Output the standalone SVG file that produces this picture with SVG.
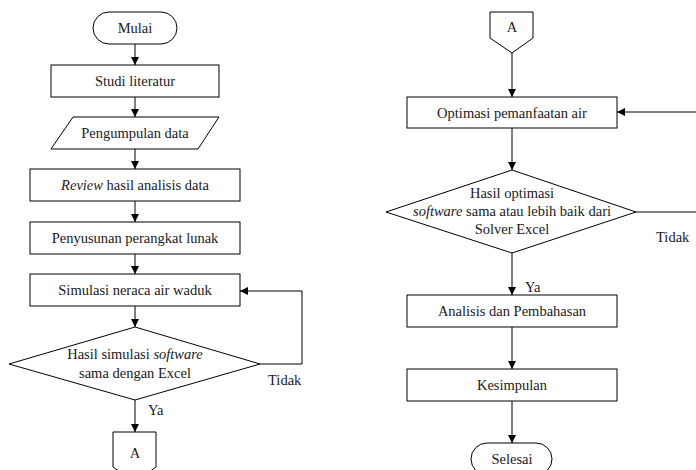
<svg xmlns="http://www.w3.org/2000/svg" width="696" height="470" viewBox="0 0 696 470" font-family="'Liberation Serif', 'Times New Roman', Times, 'DejaVu Serif', serif">
<style>
.s{fill:#fff;stroke:#000;stroke-width:1}
.c{fill:none;stroke:#000;stroke-width:1}
text{font-family:'Liberation Serif','Times New Roman',Times,'DejaVu Serif',serif;font-size:14.5px;fill:#1a1a1a;text-anchor:middle}
.l{text-anchor:start}
.i{font-style:italic}
</style>
<defs>
<marker id="ah" markerWidth="8" markerHeight="8" refX="8" refY="4" orient="auto" markerUnits="userSpaceOnUse">
<path d="M0,0 L8,4 L0,8 Z" fill="#000"/>
</marker>
</defs>
<rect width="696" height="470" fill="#fff"/>
<g id="connectors">
<line class="c" x1="135" y1="44" x2="135" y2="65" marker-end="url(#ah)"/>
<line class="c" x1="135" y1="97" x2="135" y2="117" marker-end="url(#ah)"/>
<line class="c" x1="135" y1="149" x2="135" y2="169" marker-end="url(#ah)"/>
<line class="c" x1="135" y1="201" x2="135" y2="222" marker-end="url(#ah)"/>
<line class="c" x1="135" y1="254" x2="135" y2="274" marker-end="url(#ah)"/>
<line class="c" x1="135" y1="306" x2="135" y2="327" marker-end="url(#ah)"/>
<polyline class="c" points="260,364 302,364 302,291 240,291" marker-end="url(#ah)"/>
<line class="c" x1="135" y1="400" x2="135" y2="432" marker-end="url(#ah)"/>
<line class="c" x1="512" y1="53" x2="512" y2="97" marker-end="url(#ah)"/>
<line class="c" x1="512" y1="128" x2="512" y2="170" marker-end="url(#ah)"/>
<polyline class="c" points="636,212 702,212 702,112 617,112" marker-end="url(#ah)"/>
<line class="c" x1="512" y1="253" x2="512" y2="295" marker-end="url(#ah)"/>
<line class="c" x1="512" y1="327" x2="512" y2="369" marker-end="url(#ah)"/>
<line class="c" x1="512" y1="401" x2="512" y2="443" marker-end="url(#ah)"/>
<text class="l" x="268" y="385">Tidak</text>
<text class="l" x="148" y="415">Ya</text>
<text class="l" x="656" y="242">Tidak</text>
<text class="l" x="525" y="292">Ya</text>
</g>
<g id="mulai">
<rect class="s" x="93" y="12" width="84" height="32" rx="16" ry="16"/>
<text x="135" y="33">Mulai</text>
</g>
<g id="studi">
<rect class="s" x="51" y="65" width="168" height="32"/>
<text x="135" y="86">Studi literatur</text>
</g>
<g id="pengumpulan">
<polygon class="s" points="73,117 219,117 198,149 51,149"/>
<text x="135" y="138">Pengumpulan data</text>
</g>
<g id="review">
<rect class="s" x="30" y="169" width="210" height="32"/>
<text x="135" y="190"><tspan class="i">Review</tspan> hasil analisis data</text>
</g>
<g id="penyusunan">
<rect class="s" x="30" y="222" width="210" height="32"/>
<text x="135" y="243">Penyusunan perangkat lunak</text>
</g>
<g id="simulasi">
<rect class="s" x="30" y="274" width="210" height="32"/>
<text x="135" y="295">Simulasi neraca air waduk</text>
</g>
<g id="cek1">
<polygon class="s" points="135,327 260,364 135,400 9,364"/>
<text x="135" y="359">Hasil simulasi <tspan class="i">software</tspan></text>
<text x="135" y="378">sama dengan Excel</text>
</g>
<g id="conA1">
<polygon class="s" points="113,432 156,432 156,467 135,482 113,467"/>
<text x="135" y="458">A</text>
</g>
<g id="conA2">
<polygon class="s" points="490,12 533,12 533,38 512,53 490,38"/>
<text x="512" y="32">A</text>
</g>
<g id="optimasi">
<rect class="s" x="407" y="97" width="210" height="31"/>
<text x="512" y="118">Optimasi pemanfaatan air</text>
</g>
<g id="cek2">
<polygon class="s" points="512,170 636,212 512,253 386,212"/>
<text x="512" y="198">Hasil optimasi</text>
<text x="512" y="216"><tspan class="i">software</tspan> sama atau lebih baik dari</text>
<text x="512" y="234">Solver Excel</text>
</g>
<g id="analisis">
<rect class="s" x="407" y="295" width="210" height="32"/>
<text x="512" y="316">Analisis dan Pembahasan</text>
</g>
<g id="kesimpulan">
<rect class="s" x="407" y="369" width="210" height="32"/>
<text x="512" y="390">Kesimpulan</text>
</g>
<g id="selesai">
<rect class="s" x="471" y="443" width="81" height="32" rx="16" ry="16"/>
<text x="512" y="464">Selesai</text>
</g>
</svg>
